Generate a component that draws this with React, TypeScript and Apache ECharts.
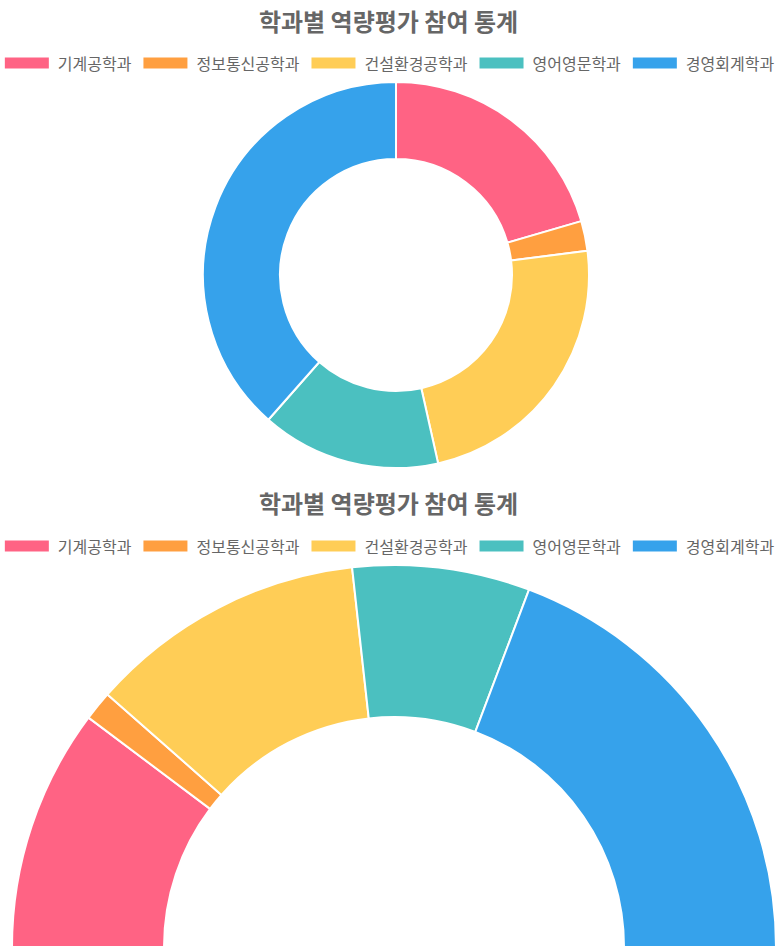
import React, { useEffect, useRef } from "react";
import * as echarts from "echarts";

const titleText = "학과별 역량평가 참여 통계";
const departments = ["기계공학과", "정보통신공학과", "건설환경공학과", "영어영문학과", "경영회계학과"];
const participants = [41, 5, 47, 30, 77];
const colors = ["#ff6384", "#ff9f40", "#ffcd56", "#4bc0c0", "#36a2eb"];

const FONT = '"Noto Sans CJK KR", "Noto Sans", sans-serif';

export default function App() {
  const ref = useRef<HTMLDivElement>(null);
  useEffect(() => {
    if (!ref.current) return;
    const chart = echarts.init(ref.current, null, { renderer: "svg" });
    const data = departments.map((name, i) => ({
      name,
      value: participants[i],
      itemStyle: { color: colors[i] },
    }));
    const legendBase = {
      left: "center",
      icon: "rect",
      itemWidth: 46,
      itemHeight: 13,
      itemGap: 10,
      padding: 0,
      selectedMode: false,
      textStyle: { fontSize: 16, color: "#666", fontFamily: FONT, padding: [0, 0, 0, 3] },
      data: departments,
    };
    const titleBase = {
      text: titleText,
      left: "center",
      padding: 0,
      textStyle: { fontSize: 24, fontWeight: "bold", color: "#666", fontFamily: FONT },
    };
    chart.setOption({
      animation: false,
      backgroundColor: "#fff",
      title: [
        { ...titleBase, top: 8 },
        { ...titleBase, top: 490 },
      ],
      legend: [
        { ...legendBase, top: 55 },
        { ...legendBase, top: 538 },
      ],
      series: [
        {
          type: "pie",
          center: [396, 275],
          radius: [116, 193],
          startAngle: 90,
          clockwise: true,
          label: { show: false },
          labelLine: { show: false },
          emphasis: { disabled: true },
          itemStyle: { borderColor: "#fff", borderWidth: 2 },
          data,
        },
        {
          type: "pie",
          center: [394, 947],
          radius: [230, 382],
          startAngle: 180,
          endAngle: 0,
          clockwise: true,
          label: { show: false },
          labelLine: { show: false },
          emphasis: { disabled: true },
          itemStyle: { borderColor: "#fff", borderWidth: 2 },
          data,
        },
      ],
    });
    return () => chart.dispose();
  }, []);
  return (
    <div
      ref={ref}
      style={{ position: "fixed", left: 0, top: 0, width: 777, height: 947, background: "#fff" }}
    />
  );
}
